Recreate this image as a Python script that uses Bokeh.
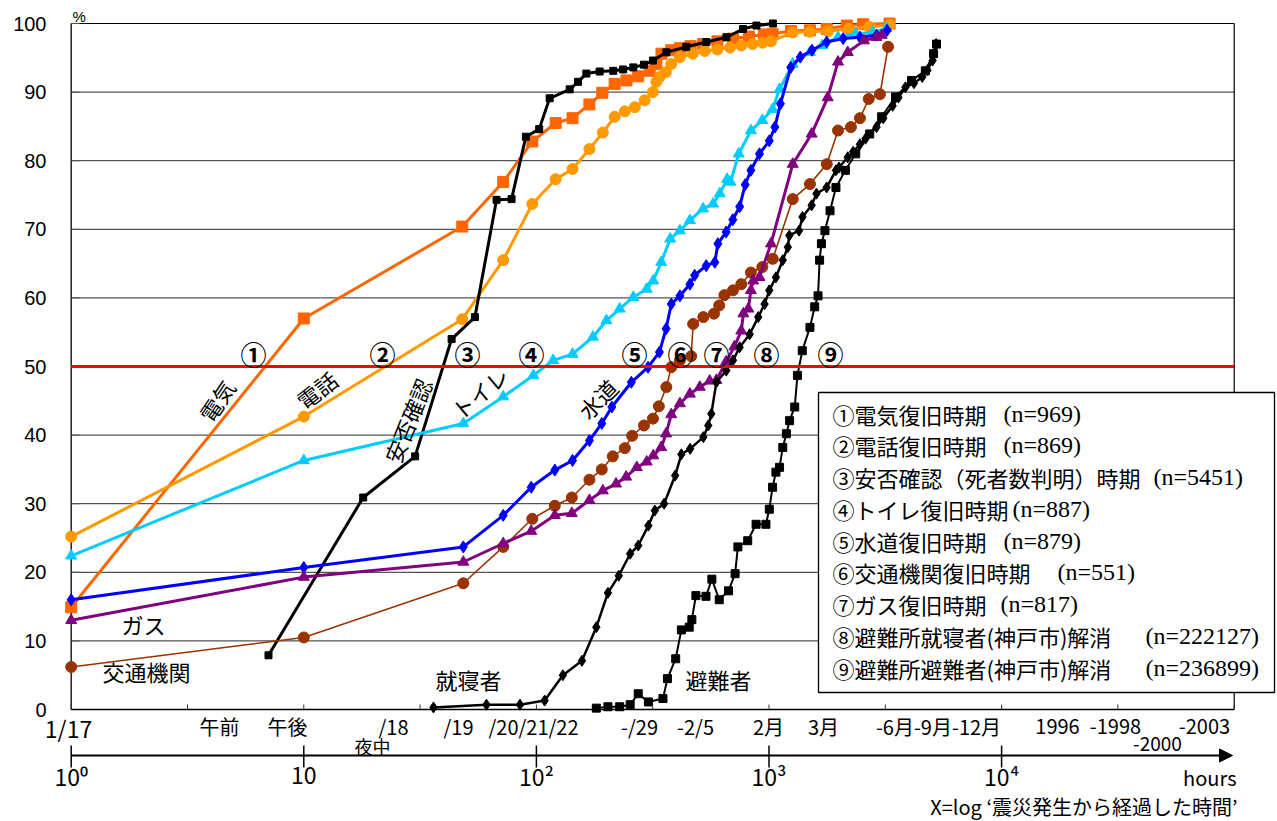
import math
from bokeh.plotting import figure
from bokeh.models import Range1d, FixedTicker, Arrow, NormalHead
from bokeh.embed import file_html
from bokeh.resources import INLINE
from bokeh.core.properties import value

JP = "Noto Sans CJK JP"

# ---------------- data (hours since quake, cumulative %) ----------------
denki_h = [1, 10, 48, 72, 96, 121, 143, 169, 192, 217, 244, 274, 307, 328, 345, 380, 414, 460, 520,
           600, 700, 820, 950, 1036, 1243, 1500, 1770, 2160, 2540, 3300]
denki_y = [14.9, 57.0, 70.4, 76.9, 82.8, 85.5, 86.2, 88.2, 89.9, 91.2, 91.7, 92.3, 93.1, 94.1, 95.6,
           96.1, 96.4, 96.7, 97.0, 97.4, 97.8, 98.1, 98.4, 98.5, 98.9, 99.0, 99.2, 99.7, 99.9, 100.0]

denwa_h = [1, 10, 48, 72, 96, 121, 143, 169, 193, 217, 240, 265, 292, 317, 328, 338, 360, 380, 414,
           470, 530, 600, 680, 760, 850, 940, 1020, 1265, 1500, 1790, 2200, 2700, 3300]
denwa_y = [25.2, 42.7, 56.9, 65.5, 73.7, 77.3, 78.8, 81.7, 84.1, 86.4, 87.2, 87.8, 88.8, 90.0, 91.5,
           92.2, 92.9, 94.1, 95.1, 95.6, 96.0, 96.2, 96.5, 96.8, 97.0, 97.2, 97.4, 98.7, 98.8, 98.9,
           99.2, 99.5, 99.8]

anpi_h = [7.05, 18.0, 30.1, 43.2, 54.4, 67.4, 78.2, 90.1, 102.8, 114, 139, 151, 164, 187, 214, 236,
          261, 290, 317, 362, 441, 538, 656, 773, 883, 1040]
anpi_y = [7.9, 30.9, 36.9, 54.0, 57.2, 74.3, 74.4, 83.5, 84.6, 89.1, 90.4, 91.5, 92.7, 93.0, 93.1,
          93.3, 93.6, 94.0, 94.6, 95.8, 96.6, 97.3, 98.0, 99.2, 99.7, 100.0]

toilet_h = [1, 10, 48.5, 72, 97, 118, 143, 175, 200, 228, 261, 298, 318, 344, 376, 414, 457, 521, 575,
            614, 661, 683, 741, 836, 936, 1036, 1110, 1265, 1500, 1695, 1980, 2360, 2800, 3200]
toilet_y = [22.4, 36.3, 41.7, 45.6, 48.7, 50.9, 51.8, 54.3, 56.7, 58.4, 60.1, 61.3, 62.5, 65.2, 68.6,
            69.8, 71.3, 73.0, 73.7, 75.2, 77.3, 76.9, 81.0, 84.4, 85.9, 87.5, 90.4, 94.1, 95.8, 96.8,
            98.0, 98.5, 98.7, 99.3]

suido_h = [1, 10, 48.5, 72, 95, 120, 143, 169, 191, 211, 256, 302, 338, 361, 380, 414, 457, 479, 537,
           585, 603, 654, 699, 748, 790, 836, 910, 1003, 1060, 1120, 1240, 1363, 1530, 1770, 2084,
           2460, 2900, 3220]
suido_y = [16.0, 20.7, 23.7, 28.3, 32.4, 34.9, 36.3, 39.2, 41.7, 44.1, 47.7, 49.9, 52.1, 55.5, 59.1,
           60.3, 62.0, 63.3, 64.7, 65.2, 67.9, 69.6, 71.4, 73.3, 76.5, 78.6, 81.0, 82.9, 84.9, 88.3,
           93.6, 95.1, 96.1, 97.3, 97.8, 98.0, 98.3, 99.0]

kotsu_h = [1, 10, 48.5, 72, 96, 120, 142, 169, 191, 213, 240, 258, 290, 317, 336, 362, 380, 414, 463,
           472, 522, 580, 611, 643, 700, 760, 836, 936, 1038, 1265, 1500, 1772, 1980, 2250, 2460,
           2685, 3000, 3250]
kotsu_y = [6.2, 10.5, 18.4, 23.7, 27.8, 29.7, 30.9, 33.5, 35.0, 36.9, 38.1, 39.9, 41.4, 42.4, 44.2,
           47.0, 49.9, 50.9, 51.5, 56.2, 57.2, 57.7, 58.9, 60.4, 61.1, 62.0, 63.7, 64.5, 65.7, 74.4,
           76.6, 79.5, 84.4, 84.9, 86.2, 89.0, 89.7, 96.6]

gas_h = [1, 10, 48.5, 72, 95, 120, 142, 169, 193, 220, 243, 270, 298, 318, 344, 361, 380, 414, 457,
         504, 556, 594, 654, 710, 760, 776, 815, 836, 855, 910, 1020, 1265, 1525, 1788, 1980, 2180,
         2560, 2900, 3050]
gas_y = [13.0, 19.3, 21.5, 24.2, 26.0, 28.3, 28.6, 30.5, 31.9, 32.9, 33.9, 35.3, 36.1, 37.0, 38.2,
         40.2, 43.0, 44.6, 46.0, 47.0, 47.9, 48.0, 50.7, 52.9, 55.2, 57.7, 58.4, 61.1, 62.5, 63.0,
         67.9, 79.5, 83.9, 89.2, 94.4, 95.8, 97.5, 98.0, 98.3]

shushin_h = [36.1, 61, 85, 108.5, 130, 157, 181, 203, 226, 253, 274, 303, 323, 354, 395, 420, 458,
             522, 548, 565, 594, 655, 700, 748, 826, 899, 957, 1003, 1071, 1146, 1205, 1223, 1346,
             1393, 1525, 1600, 1770, 1940, 2000, 2180, 2300, 2460, 2600, 2900, 3100, 3400, 3600,
             3860, 4200, 4560, 4800, 5050, 5230]
shushin_y = [0.3, 0.7, 0.7, 1.3, 5.0, 7.1, 12.0, 17.0, 19.5, 22.7, 23.9, 26.8, 29.0, 30.0, 34.1,
             37.2, 38.0, 39.7, 41.4, 43.1, 47.7, 49.4, 50.9, 52.8, 54.7, 57.2, 59.1, 61.1, 63.0,
             65.5, 67.4, 69.1, 69.8, 71.8, 73.5, 75.2, 76.1, 78.6, 79.0, 80.5, 81.3, 82.4, 83.2,
             84.9, 86.2, 88.0, 89.2, 90.7, 91.3, 92.2, 93.2, 94.6, 97.0]

hinan_h = [181, 203, 228, 253, 274, 303, 350, 366, 397, 420, 454, 466, 485, 536, 568, 611, 670, 715,
           735, 810, 880, 970, 1003, 1036, 1071, 1110, 1146, 1188, 1226, 1290, 1325, 1390, 1500,
           1572, 1625, 1650, 1680, 1740, 1830, 1940, 2130, 2360, 2710, 3050, 3500, 4100, 4700,
           5100, 5250]
hinan_y = [0.2, 0.4, 0.4, 0.7, 2.3, 1.1, 1.6, 4.5, 7.4, 11.6, 12.0, 13.1, 16.6, 16.5, 19.0, 16.0,
           17.3, 19.8, 23.7, 24.6, 27.0, 27.0, 29.2, 32.4, 34.6, 35.3, 38.2, 40.2, 42.1, 44.1, 48.7,
           52.3, 55.7, 58.7, 60.3, 65.5, 67.9, 69.8, 72.7, 76.1, 78.6, 81.0, 83.9, 86.4, 89.3, 91.7,
           93.1, 95.6, 97.0]

x_min, x_max = 1, 1e5          # plotted hours span (10^0 .. 10^5)
y_ticks = [0, 10, 20, 30, 40, 50, 60, 70, 80, 90, 100]
half_decade_ticks = [10 ** (k / 2) for k in range(11)]
decade_ticks = [1, 10, 100, 1000, 10000]
decade_labels = ["10⁰", "10", "10²", "10³", "10⁴"]
threshold = 50

period_labels = ["1/17", "午前", "午後", "/18", "夜中", "/19", "/20/21/22", "-/29", "-2/5", "2月", "3月",
                 "-6月-9月-12月", "1996", "-1998", "-2000", "-2003"]

legend_jp = ["①電気復旧時期", "②電話復旧時期", "③安否確認（死者数判明）時期", "④トイレ復旧時期",
             "⑤水道復旧時期", "⑥交通機関復旧時期", "⑦ガス復旧時期",
             "⑧避難所就寝者(神戸市)解消", "⑨避難所避難者(神戸市)解消"]
legend_n = ["(n=969)", "(n=869)", "(n=5451)", "(n=887)", "(n=879)", "(n=551)", "(n=817)",
            "(n=222127)", "(n=236899)"]
circled = ["①", "②", "③", "④", "⑤", "⑥", "⑦", "⑧", "⑨"]


# ---------------- layout helpers (page pixels -> data coords) ----------------
def px2x(px):
    return 10 ** ((px - 70.7) / 232.6)


def py2y(py):
    return (709.0 - py) / 6.86


W, H = 1276, 820
FL, FT = 46, 4   # frame left / top in pixels

p = figure(width=W, height=H, x_axis_type="log", x_axis_location=None,
           x_range=Range1d(px2x(FL), px2x(W)), y_range=Range1d(py2y(H), py2y(FT)),
           output_backend="svg", toolbar_location=None,
           min_border_left=FL, min_border_top=FT, min_border_right=0, min_border_bottom=0)
p.background_fill_color = "white"
p.border_fill_color = "white"
p.outline_line_color = None
p.xgrid.visible = False
p.ygrid.visible = False

# y axis (labels only; lines drawn below)
ya = p.yaxis[0]
ya.ticker = FixedTicker(ticks=y_ticks)
ya.major_label_text_font = "Liberation Sans"
ya.major_label_text_font_size = "20px"
ya.major_label_text_color = "black"
ya.major_tick_in = 0
ya.major_tick_out = 0
ya.minor_tick_line_color = None
ya.major_label_standoff = 0
ya.axis_line_color = None

# horizontal grid lines and frame
p.segment(x0=[x_min] * 9, x1=[x_max] * 9, y0=y_ticks[1:-1], y1=y_ticks[1:-1],
          line_color="#2a2a2a", line_width=1)
p.segment(x0=[x_min], x1=[x_max], y0=[100], y1=[100], line_color="black", line_width=1.2)
p.segment(x0=[x_max], x1=[x_max], y0=[0], y1=[100], line_color="black", line_width=1.2)
p.segment(x0=[x_min], x1=[x_min], y0=[0], y1=[100], line_color="black", line_width=1.3)
# short inward y ticks
p.segment(x0=[x_min] * 11, x1=[px2x(79)] * 11, y0=y_ticks, y1=y_ticks,
          line_color="#555555", line_width=1)

# ---------------- series ----------------
series = [
    (denki_h, denki_y, "#FF6600", 3, "square", 11),
    (denwa_h, denwa_y, "#FF9900", 3, "circle", 11),
    (anpi_h, anpi_y, "black", 3, "square", 7),
    (toilet_h, toilet_y, "#00CCFF", 3, "triangle", 11),
    (suido_h, suido_y, "#0000FF", 3, "diamond", 12),
    (kotsu_h, kotsu_y, "#993300", 1.6, "circle", 11),
    (gas_h, gas_y, "#800080", 3, "triangle", 11),
    (shushin_h, shushin_y, "black", 2.5, "diamond", 11),
    (hinan_h, hinan_y, "black", 2, "square", 8),
]
for hx, yy, col, lw, mk, sz in series:
    p.line(hx, yy, line_color=col, line_width=lw)
    p.scatter(hx, yy, marker=mk, size=sz, fill_color=col, line_color=col)

# threshold line
p.segment(x0=[x_min], x1=[x_max], y0=[threshold], y1=[threshold], line_color="#FF0000", line_width=3)

# bottom (period) axis line + half-decade ticks
p.segment(x0=[x_min], x1=[x_max], y0=[0], y1=[0], line_color="black", line_width=1.6)
p.segment(x0=half_decade_ticks, x1=half_decade_ticks, y0=[0] * 11, y1=[py2y(704)] * 11,
          line_color="#333333", line_width=1)

# hours axis (log) with arrow
ay = py2y(755)
p.add_layout(Arrow(end=NormalHead(size=13, fill_color="black", line_color="black"),
                   x_start=x_min, y_start=ay, x_end=px2x(1232), y_end=ay,
                   line_color="black", line_width=2))
p.segment(x0=decade_ticks, x1=decade_ticks, y0=[py2y(745)] * 5, y1=[py2y(767)] * 5,
          line_color="black", line_width=1.5)
p.text(x=decade_ticks, y=[py2y(775)] * 5, text=decade_labels, text_font=value(JP),
       text_font_size="23px", text_align="center", text_baseline="middle", text_color="black")

# circled numbers on the 50% line
circ_px = [253, 382, 467, 531, 634, 680, 716, 766, 830]
p.text(x=[px2x(v) for v in circ_px], y=[py2y(353)] * 9, text=circled,
       text_font=value(JP), text_font_size="26px", text_font_style="bold", text_align="center",
       text_baseline="middle", text_color="black")

# series labels inside the chart
in_labels = [
    ("電気", 216, 400, 56),
    ("電話", 316, 389, 38),
    ("安否確認", 407, 420, 68),
    ("トイレ", 479, 392, 40),
    ("水道", 597, 398, 45),
    ("ガス", 143, 623, 0),
    ("交通機関", 146, 670, 0),
    ("就寝者", 468, 678, 0),
    ("避難者", 718, 678, 0),
]
for txt, xx, yy, ang in in_labels:
    p.text(x=[px2x(xx)], y=[py2y(yy)], text=[txt], angle=math.radians(ang),
           text_font=value(JP), text_font_size="22px", text_align="center",
           text_baseline="middle", text_color="black")

# period labels below the chart (first row, then the lower row)
row1 = [0, 1, 2, 3, 5, 6, 7, 8, 9, 10, 11, 12, 13, 15]
row1_px = [68, 219, 287, 393, 458, 533, 639, 695, 768, 823, 938, 1057, 1115, 1204]
p.text(x=[px2x(row1_px[0])], y=[py2y(727)], text=[period_labels[0]], text_font=value(JP),
       text_font_size="23px", text_align="center", text_baseline="middle", text_color="black")
p.text(x=[px2x(v) for v in row1_px[1:]], y=[py2y(726)] * (len(row1) - 1),
       text=[period_labels[i] for i in row1[1:]], text_font=value(JP), text_font_size="20px",
       text_align="center", text_baseline="middle", text_color="black")
p.text(x=[px2x(372)], y=[py2y(745)], text=[period_labels[4]], text_font=value(JP),
       text_font_size="18px", text_align="center", text_baseline="middle", text_color="black")
p.text(x=[px2x(1157)], y=[py2y(743)], text=[period_labels[14]], text_font=value(JP),
       text_font_size="19px", text_align="center", text_baseline="middle", text_color="black")

p.text(x=[px2x(1236)], y=[py2y(777)], text=["hours"], text_font=value(JP), text_font_size="20px",
       text_align="right", text_baseline="middle", text_color="black")
p.text(x=[px2x(1237)], y=[py2y(806)], text=["X=log ‘震災発生から経過した時間’"], text_font=value(JP),
       text_font_size="20px", text_align="right", text_baseline="middle", text_color="black")
p.text(x=[px2x(72)], y=[py2y(16)], text=["%"], text_font=value("Liberation Sans"),
       text_font_size="15px", text_align="left", text_baseline="middle", text_color="black")

# legend box
p.quad(left=[px2x(818)], right=[px2x(1274)], top=[py2y(392)], bottom=[py2y(692)],
       fill_color="white", line_color="black", line_width=1.3)
n_px = [1003, 1003, 1153, 1012, 1003, 1057, 1000, 1145, 1145]
leg_y = [py2y(413 + 31.75 * i) for i in range(9)]
p.text(x=[px2x(832)] * 9, y=leg_y, text=legend_jp, text_font=value(JP), text_font_size="22px",
       text_align="left", text_baseline="middle", text_color="black")
p.text(x=[px2x(v) for v in n_px], y=leg_y, text=legend_n, text_font=value("Liberation Serif"),
       text_font_size="24px", text_align="left", text_baseline="middle", text_color="black")

open("out.html", "w").write(file_html(p, INLINE))
